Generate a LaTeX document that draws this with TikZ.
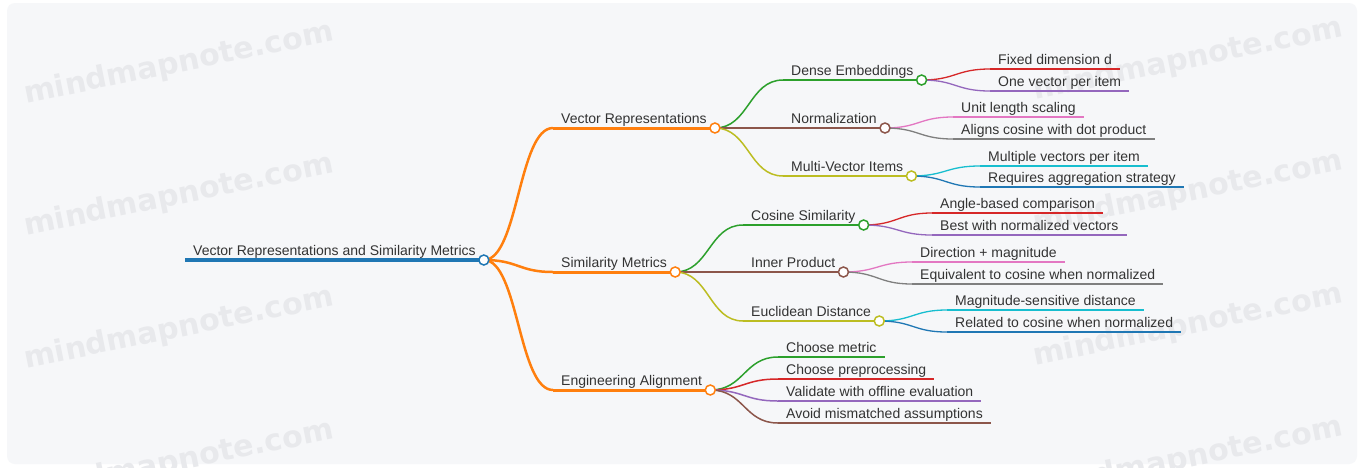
\documentclass[tikz,border=0pt]{standalone}
\usepackage{fontspec}
\setmainfont{Liberation Sans}
\newfontfamily\wmfont{DejaVu Sans}
\usetikzlibrary{calc}

\definecolor{pagebg}{HTML}{F6F7F9}
\definecolor{wmgrey}{HTML}{E8E9EC}
\definecolor{ink}{HTML}{333333}
\definecolor{cBlue}{HTML}{1F77B4}
\definecolor{cOrange}{HTML}{FF7F0E}
\definecolor{cGreen}{HTML}{2CA02C}
\definecolor{cRed}{HTML}{D62728}
\definecolor{cPurple}{HTML}{9467BD}
\definecolor{cBrown}{HTML}{8C564B}
\definecolor{cPink}{HTML}{E377C2}
\definecolor{cGrey}{HTML}{7F7F7F}
\definecolor{cOlive}{HTML}{BCBD22}
\definecolor{cCyan}{HTML}{17BECF}

\tikzset{
  txt/.style={inner sep=0pt, text=ink, font=\fontsize{14}{16}\selectfont},
  dot/.style={circle, fill=white, line width=1.5pt, minimum size=10pt, inner sep=0pt},
  wm/.style={text=wmgrey, font=\wmfont\bfseries\fontsize{30}{33}\selectfont, rotate=11.5},
}

% topic: name, line start x, line y, colour, line width, label
\newcommand\mmtopic[6]{%
  \coordinate (#1-s) at (#2,#3);
  \node[txt, anchor=base west] (#1) at ($(#1-s)+(8,-4.5)$) {#6};
  \coordinate (#1-e) at ($(#1.east |- #1-s)+(8,0)$);
  \draw[#4, line width=#5] (#1-s) -- (#1-e);
}
% curved branch from a parent's end to a child's start
\newcommand\mmlink[4]{%
  \draw[#3, line width=#4] let \p1=(#1-e), \p2=(#2-s) in
    (\p1) .. controls ({(\x1+\x2)/2},\y1) and ({(\x1+\x2)/2},\y2) .. (\p2);
}
% open circle at the end of a topic that has children
\newcommand\mmdot[2]{\node[dot, draw=#2] (#1-c) at (#1-e) {};}

\begin{document}
\begin{tikzpicture}[x=1pt, y=-1pt]
\useasboundingbox (0,0) rectangle (1361,467);
\fill[white] (0,0) rectangle (1361,467);
\fill[pagebg, rounded corners=8pt] (7,3) rectangle (1357,464);

% watermark
\foreach \wy in {64,196,329,462} {
  \node[wm] at (179,\wy) {mindmapnote.com};
}
\foreach \wy in {60,193,326,459} {
  \node[wm] at (1188,\wy) {mindmapnote.com};
}

% root
\mmtopic{root}{185}{260}{cBlue}{4pt}{Vector Representations and Similarity Metrics}

% first level
\mmtopic{vr}{553}{128}{cOrange}{3pt}{Vector Representations}
\mmtopic{sm}{553}{272}{cOrange}{3pt}{Similarity Metrics}
\mmtopic{ea}{553}{390}{cOrange}{3pt}{Engineering Alignment}

% second level
\mmtopic{de}{783}{80}{cGreen}{2.2pt}{Dense Embeddings}
\mmtopic{no}{783}{128}{cBrown}{2.2pt}{Normalization}
\mmtopic{mv}{783}{176}{cOlive}{2.2pt}{Multi-Vector Items}
\mmtopic{cs}{743}{225}{cGreen}{2.2pt}{Cosine Similarity}
\mmtopic{ip}{743}{272}{cBrown}{2.2pt}{Inner Product}
\mmtopic{ed}{743}{321}{cOlive}{2.2pt}{Euclidean Distance}
\mmtopic{ea1}{778}{357}{cGreen}{2.2pt}{Choose metric}
\mmtopic{ea2}{778}{379}{cRed}{2.2pt}{Choose preprocessing}
\mmtopic{ea3}{778}{401}{cPurple}{2.2pt}{Validate with offline evaluation}
\mmtopic{ea4}{778}{423}{cBrown}{2.2pt}{Avoid mismatched assumptions}

% third level
\mmtopic{de1}{990}{69}{cRed}{1.8pt}{Fixed dimension d}
\mmtopic{de2}{990}{91}{cPurple}{1.8pt}{One vector per item}
\mmtopic{no1}{953}{117}{cPink}{1.8pt}{Unit length scaling}
\mmtopic{no2}{953}{139}{cGrey}{1.8pt}{Aligns cosine with dot product}
\mmtopic{mv1}{980}{166}{cCyan}{1.8pt}{Multiple vectors per item}
\mmtopic{mv2}{980}{187}{cBlue}{1.8pt}{Requires aggregation strategy}
\mmtopic{cs1}{932}{213}{cRed}{1.8pt}{Angle-based comparison}
\mmtopic{cs2}{932}{235}{cPurple}{1.8pt}{Best with normalized vectors}
\mmtopic{ip1}{912}{262}{cPink}{1.8pt}{Direction + magnitude}
\mmtopic{ip2}{912}{284}{cGrey}{1.8pt}{Equivalent to cosine when normalized}
\mmtopic{ed1}{947}{310}{cCyan}{1.8pt}{Magnitude-sensitive distance}
\mmtopic{ed2}{947}{332}{cBlue}{1.8pt}{Related to cosine when normalized}

% branches
\mmlink{root}{vr}{cOrange}{2.5pt}
\mmlink{root}{sm}{cOrange}{2.5pt}
\mmlink{root}{ea}{cOrange}{2.5pt}

\mmlink{vr}{de}{cGreen}{1.5pt}
\mmlink{vr}{no}{cBrown}{1.5pt}
\mmlink{vr}{mv}{cOlive}{1.5pt}
\mmlink{sm}{cs}{cGreen}{1.5pt}
\mmlink{sm}{ip}{cBrown}{1.5pt}
\mmlink{sm}{ed}{cOlive}{1.5pt}
\mmlink{ea}{ea1}{cGreen}{1.5pt}
\mmlink{ea}{ea2}{cRed}{1.5pt}
\mmlink{ea}{ea3}{cPurple}{1.5pt}
\mmlink{ea}{ea4}{cBrown}{1.5pt}

\mmlink{de}{de1}{cRed}{1.3pt}
\mmlink{de}{de2}{cPurple}{1.3pt}
\mmlink{no}{no1}{cPink}{1.3pt}
\mmlink{no}{no2}{cGrey}{1.3pt}
\mmlink{mv}{mv1}{cCyan}{1.3pt}
\mmlink{mv}{mv2}{cBlue}{1.3pt}
\mmlink{cs}{cs1}{cRed}{1.3pt}
\mmlink{cs}{cs2}{cPurple}{1.3pt}
\mmlink{ip}{ip1}{cPink}{1.3pt}
\mmlink{ip}{ip2}{cGrey}{1.3pt}
\mmlink{ed}{ed1}{cCyan}{1.3pt}
\mmlink{ed}{ed2}{cBlue}{1.3pt}

% end circles
\mmdot{root}{cBlue}
\mmdot{vr}{cOrange}
\mmdot{sm}{cOrange}
\mmdot{ea}{cOrange}
\mmdot{de}{cGreen}
\mmdot{no}{cBrown}
\mmdot{mv}{cOlive}
\mmdot{cs}{cGreen}
\mmdot{ip}{cBrown}
\mmdot{ed}{cOlive}
\end{tikzpicture}
\end{document}
